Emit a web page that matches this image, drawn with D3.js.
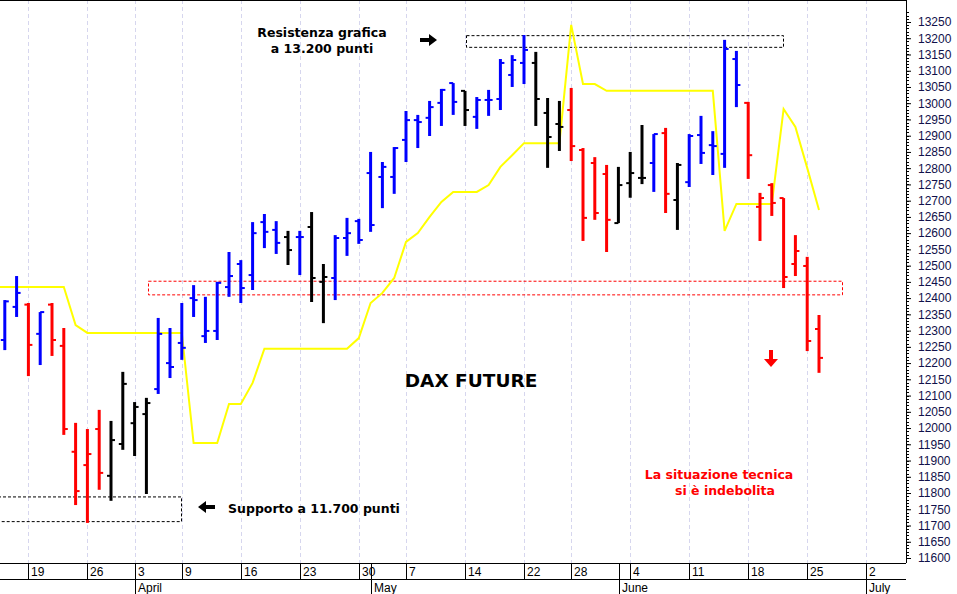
<!DOCTYPE html>
<html>
<head>
<meta charset="utf-8">
<script src="https://cdn.jsdelivr.net/npm/d3@7"></script>
<style>
  body { margin: 0; background: #fff; }
  svg { display: block; }
</style>
</head>
<body>
<div id="viz"></div>
<script>
// trading days, Mar 14 -> Jun 26 2018
var dates = ["03-14","03-15","03-16","03-19","03-20","03-21","03-22","03-23","03-26","03-27","03-28","03-29",
  "04-03","04-04","04-05","04-06","04-09","04-10","04-11","04-12","04-13","04-16","04-17","04-18","04-19","04-20",
  "04-23","04-24","04-25","04-26","04-27","04-30","05-02","05-03","05-04","05-07","05-08","05-09","05-10","05-11",
  "05-14","05-15","05-16","05-17","05-18","05-22","05-23","05-24","05-25","05-28","05-29","05-30","05-31","06-01",
  "06-04","06-05","06-06","06-07","06-08","06-11","06-12","06-13","06-14","06-15","06-18","06-19","06-20","06-21",
  "06-22","06-25","06-26"];

var opens  = [12380,12271,12373,12380,12290,12380,12253,11927,11886,11997,11853,11951,12015,12043,12120,12200,12262,12400,12283,12299,
  12434,12505,12471,12634,12610,12588,12588,12619,12450,12462,12585,12637,12785,12773,12773,12887,12948,12955,13001,13062,
  13038,12958,13010,13013,13087,13124,13124,12970,12936,12979,12856,12816,12782,12631,12754,12770,12816,12908,12702,12757,
  12902,12871,12844,13136,13001,12681,12748,12708,12505,12499,12305];
var highs  = [12470,12394,12468,12385,12357,12385,12308,12016,11997,12056,12022,12173,12080,12093,12339,12308,12385,12440,12404,12450,
  12542,12517,12634,12659,12637,12607,12607,12665,12505,12594,12647,12644,12850,12819,12865,12976,12964,13007,13044,13062,
  13038,13019,13041,13136,13148,13210,13158,13016,13007,13047,12862,12834,12810,12804,12850,12933,12905,12924,12816,12905,
  12961,12914,13195,13161,13004,12724,12754,12708,12594,12527,12348];
var lows   = [12250,12240,12342,12160,12194,12222,11979,11763,11708,11810,11776,11933,11914,11797,12105,12154,12210,12342,12262,12271,
  12404,12385,12425,12554,12536,12502,12471,12388,12323,12394,12530,12567,12604,12677,12721,12819,12862,12899,12930,12964,
  12930,12921,12961,12979,13050,13059,12930,12801,12853,12822,12576,12641,12542,12631,12709,12751,12727,12662,12610,12742,
  12813,12779,12801,12988,12767,12576,12653,12431,12468,12237,12170];
var closes = [12280,12390,12416,12256,12357,12271,11997,11806,11920,11862,11963,12136,12065,12077,12290,12188,12247,12394,12299,12447,
  12468,12431,12600,12604,12570,12548,12588,12462,12465,12585,12600,12579,12625,12804,12862,12948,12942,12988,13041,13004,
  12979,13010,13010,13124,13133,13164,13013,12896,12927,12868,12647,12662,12641,12748,12785,12770,12905,12721,12810,12899,
  12847,12868,13167,13056,12840,12708,12693,12465,12545,12268,12216];
var barColors = "bbbrbrrrrrkkkkbbbbbbbbbbbkbkkbbbbbbbbbbbkbbbbbkkkrrrrkkkbrkbbbbbrrrrrrr".split("");
var stopLine = [12434,12434,12434,12434,12434,12434,12434,12317,12293,12293,12293,12293,12293,12293,12293,12293,12293,11954,11954,11954,
  12074,12074,12139,12244,12244,12244,12244,12244,12244,12244,12244,12277,12385,12416,12462,12573,12600,12650,12696,12727,
  12727,12727,12748,12804,12840,12877,12877,12877,12877,13241,13059,13059,13038,13038,13038,13038,13038,13038,13038,13038,
  13038,13038,12607,12690,12690,12690,12690,12982,12927,12801,12671];

var weekTicks = [[3,"19"],[8,"26"],[12,"3"],[16,"9"],[21,"16"],[26,"23"],[31,"30"],[35,"7"],[40,"14"],[45,"22"],
  [49,"28"],[54,"4"],[59,"11"],[64,"18"],[69,"25"],[74,"2"]];
var monthTicks = [[12,"April"],[32,"May"],[53,"June"],[74,"July"]];

var W = 957, H = 594, plotR = 906, plotB = 563;
var colorMap = {b: "#0000ff", r: "#ff0000", k: "#000000"};

var svg = d3.select("#viz").append("svg").attr("width", W).attr("height", H);

var x = d3.scaleLinear().domain([0, 70]).range([-7, 819]);
var y = d3.scaleLinear().domain([11600, 13250]).range([558, 22]);

var plot = svg.append("g");
svg.append("clipPath").attr("id", "clip").append("rect").attr("width", plotR).attr("height", plotB);
plot.attr("clip-path", "url(#clip)");

// week gridlines
plot.selectAll("line.grid").data(weekTicks).enter().append("line")
  .attr("x1", function(d){return Math.round(x(d[0]))+0.5;})
  .attr("x2", function(d){return Math.round(x(d[0]))+0.5;})
  .attr("y1", 0).attr("y2", plotB)
  .style("stroke", "#d6d6ee").style("stroke-dasharray", "4,3");

// zones
function zone(x1, x2, p1, p2, col){
  plot.append("rect").attr("x", x1).attr("y", y(p1)).attr("width", x2-x1).attr("height", y(p2)-y(p1))
    .style("fill", "none").style("stroke", col).style("stroke-dasharray", "3,2");
}
zone(466.5, 783.5, 13208, 13172, "#000");
zone(148.5, 842.5, 12452, 12410, "#ff0000");
zone(-2, 181.5, 11788, 11712, "#000");

// stop line
plot.append("path").datum(stopLine)
  .attr("d", d3.line().x(function(d,i){return x(i);}).y(function(d){return y(d);}))
  .style("fill", "none").style("stroke", "#ffff00").style("stroke-width", 2);

// ohlc bars
var bars = plot.selectAll("g.bar").data(dates).enter().append("g")
  .style("stroke", function(d,i){return colorMap[barColors[i]];});
bars.append("line")
  .attr("x1", function(d,i){return x(i);}).attr("x2", function(d,i){return x(i);})
  .attr("y1", function(d,i){return y(highs[i]);}).attr("y2", function(d,i){return y(lows[i]);})
  .style("stroke-width", 3);
bars.append("line")
  .attr("x1", function(d,i){return x(i)-4;}).attr("x2", function(d,i){return x(i);})
  .attr("y1", function(d,i){return y(opens[i]);}).attr("y2", function(d,i){return y(opens[i]);})
  .style("stroke-width", 2);
bars.append("line")
  .attr("x1", function(d,i){return x(i);}).attr("x2", function(d,i){return x(i)+4;})
  .attr("y1", function(d,i){return y(closes[i]);}).attr("y2", function(d,i){return y(closes[i]);})
  .style("stroke-width", 2);

// right axis
var yAxis = d3.axisRight(y).tickValues(d3.range(11600, 13251, 50)).tickFormat(d3.format("d")).tickSize(5).tickPadding(7);
var ag = svg.append("g").attr("transform", "translate(" + plotR + ",0)").call(yAxis);
ag.select(".domain").remove();
ag.selectAll("text").style("font-family", "Liberation Sans, Arial").style("font-size", "12px").style("fill", "#10104a");
ag.selectAll("line").style("stroke", "#000");
svg.append("g").selectAll("line").data(d3.range(11600, 13281, 10)).enter().append("line")
  .attr("x1", plotR).attr("x2", plotR+3)
  .attr("y1", function(d){return Math.round(y(d))+0.5;}).attr("y2", function(d){return Math.round(y(d))+0.5;})
  .style("stroke", "#000");
svg.append("line").attr("x1", plotR+0.5).attr("x2", plotR+0.5).attr("y1", 0).attr("y2", plotB).style("stroke", "#000");
svg.append("line").attr("x1", 0).attr("x2", plotR).attr("y1", 0.5).attr("y2", 0.5).style("stroke", "#000");

// bottom axis rows
[plotB+0.5, 579.5].forEach(function(yy){
  svg.append("line").attr("x1", 0).attr("x2", plotR).attr("y1", yy).attr("y2", yy).style("stroke", "#000");
});
svg.selectAll("line.wk").data(weekTicks).enter().append("line")
  .attr("x1", function(d){return Math.round(x(d[0]))+0.5;}).attr("x2", function(d){return Math.round(x(d[0]))+0.5;})
  .attr("y1", plotB).attr("y2", 579).style("stroke", "#000");
svg.selectAll("text.wk").data(weekTicks).enter().append("text")
  .attr("x", function(d){return Math.round(x(d[0]))+3;}).attr("y", 576)
  .text(function(d){return d[1];})
  .style("font-family", "Liberation Sans, Arial").style("font-size", "12px");
svg.selectAll("line.mo").data(monthTicks).enter().append("line")
  .attr("x1", function(d){return Math.round(x(d[0]-0.5)+6)+0.5;}).attr("x2", function(d){return Math.round(x(d[0]-0.5)+6)+0.5;})
  .attr("y1", function(d){return d[1]=="May" || d[1]=="June" ? plotB : 579;}).attr("y2", H)
  .style("stroke", "#000");
svg.selectAll("text.mo").data(monthTicks).enter().append("text")
  .attr("x", function(d){return Math.round(x(d[0]-0.5)+6)+3;}).attr("y", 592)
  .text(function(d){return d[1];})
  .style("font-family", "Liberation Sans, Arial").style("font-size", "12px");

// annotations
function label(txt, xx, yy, size, col){
  svg.append("text").attr("x", xx).attr("y", yy).attr("text-anchor", "middle").text(txt)
    .style("font-family", "DejaVu Sans, Verdana").style("font-weight", "bold")
    .style("font-size", size + "px").style("fill", col);
}
label("Resistenza grafica", 322, 37, 12.5, "#000");
label("a 13.200 punti", 322, 53, 12.5, "#000");
label("Supporto a 11.700 punti", 314, 513, 12.5, "#000");
label("DAX FUTURE", 471, 387, 18.5, "#000");
label("La situazione tecnica", 719, 479, 12.5, "#ff0000");
label("si è indebolita", 725, 495, 12.5, "#ff0000");

svg.append("path").attr("d", "M420,38 h9 v-4 l8,6 l-8,6 v-4 h-9 z").style("fill", "#000");
svg.append("path").attr("d", "M215,505 h-9 v-4 l-8,6 l8,6 v-4 h9 z").style("fill", "#000");
svg.append("path").attr("d", "M769,350 h4 v9 h5 l-7,8 l-7,-8 h5 z").style("fill", "#ff0000");
</script>
</body>
</html>
